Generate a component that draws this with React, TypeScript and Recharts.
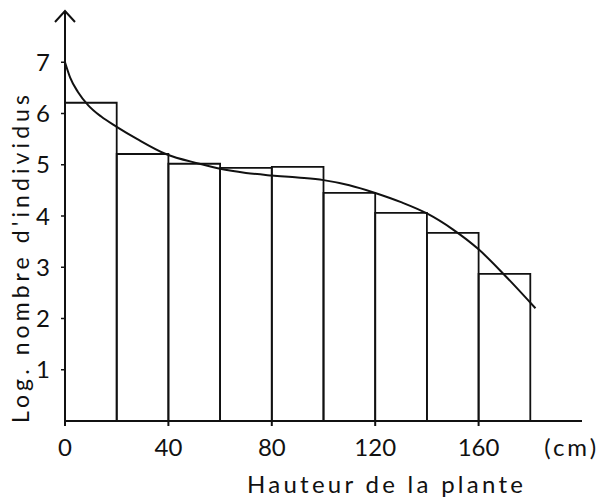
import { ComposedChart, Line, XAxis, YAxis, ReferenceArea, ReferenceDot } from "recharts"

// histogram bins (height class, cm) and log counts
const binStarts = [0, 20, 40, 60, 80, 100, 120, 140, 160]
const binWidth = 20
const binValues = [6.21, 5.21, 5.02, 4.94, 4.96, 4.45, 4.06, 3.67, 2.87]

// fitted curve
const curveX = [0, 2, 5, 9, 14, 20, 28, 39, 52, 60, 70, 80, 90, 100, 110, 120, 130, 140, 150, 160, 170, 182]
const curveY = [7.0, 6.7, 6.42, 6.16, 5.94, 5.74, 5.5, 5.21, 5.02, 4.92, 4.84, 4.79, 4.75, 4.7, 4.6, 4.45, 4.27, 4.05, 3.74, 3.35, 2.85, 2.2]

const xTicks = [0, 40, 80, 120, 160]
const yTicks = [1, 2, 3, 4, 5, 6, 7]
const unitTickPos = 196
const unitLabel = "(cm)"
const xTitle = "Hauteur  de  la  plante"
const yTitle = "Log.  nombre  d'individus"

const FONT = "Lato, 'DejaVu Sans', sans-serif"
const INK = "#111"

const curveData = curveX.map((x, i) => ({ x, y: curveY[i] }))

const XTick = (props: any) => {
  const { x, y, payload } = props
  if (payload.value === unitTickPos) {
    return (
      <text x={x} y={y + 35} textAnchor="middle" fontFamily={FONT} fontSize={24} fill={INK} letterSpacing={3}>
        {unitLabel}
      </text>
    )
  }
  return (
    <g>
      <line x1={x} y1={y} x2={x} y2={y + 5} stroke={INK} strokeWidth={2} />
      <text x={x} y={y + 35} textAnchor="middle" fontFamily={FONT} fontSize={24} fill={INK}>
        {payload.value}
      </text>
    </g>
  )
}

const Arrow = (props: any) => {
  const { cx, cy } = props
  return (
    <path
      d={`M${cx - 10},${cy + 11} L${cx},${cy} L${cx + 10},${cy + 11}`}
      fill="none"
      stroke={INK}
      strokeWidth={2}
    />
  )
}

export default function App() {
  return (
    <div style={{ position: "absolute", left: 0, top: 0, width: 604, height: 497, background: "#fff" }}>
      <ComposedChart width={604} height={497} data={curveData} margin={{ top: 11, right: 22, left: 0, bottom: 0 }}>
        <XAxis
          dataKey="x"
          type="number"
          domain={[0, 200]}
          ticks={[...xTicks, unitTickPos]}
          interval={0}
          tick={<XTick />}
          tickLine={false}
          tickSize={0}
          tickMargin={0}
          axisLine={{ stroke: INK, strokeWidth: 2 }}
          height={76}
          allowDataOverflow
          label={{
            content: () => (
              <text
                x={385}
                y={493}
                textAnchor="middle"
                fontFamily={FONT}
                fontSize={24}
                fill={INK}
                textLength={276}
                lengthAdjust="spacing"
              >
                {xTitle}
              </text>
            ),
          }}
        />
        <YAxis
          type="number"
          domain={[0, 8]}
          ticks={yTicks}
          interval={0}
          width={65}
          tickSize={4}
          tickMargin={11}
          tickLine={{ stroke: INK, strokeWidth: 1.5 }}
          axisLine={{ stroke: INK, strokeWidth: 2 }}
          tick={{ fontFamily: FONT, fontSize: 24, fill: INK }}
          allowDataOverflow
          label={{
            content: () => (
              <text
                transform="translate(20,259) rotate(-90)"
                textAnchor="middle"
                dominantBaseline="central"
                fontFamily={FONT}
                fontSize={23}
                fill={INK}
                textLength={328}
                lengthAdjust="spacing"
              >
                {yTitle}
              </text>
            ),
          }}
        />
        {binStarts.map((start, i) => (
          <ReferenceArea
            key={start}
            x1={start}
            x2={start + binWidth}
            y1={0}
            y2={binValues[i]}
            fill="none"
            fillOpacity={0}
            stroke={INK}
            strokeWidth={1.8}
            strokeOpacity={1}
          />
        ))}
        <Line
          type="monotone"
          dataKey="y"
          stroke={INK}
          strokeWidth={2}
          dot={false}
          isAnimationActive={false}
        />
        <ReferenceDot x={0} y={8} r={0} shape={<Arrow />} />
      </ComposedChart>
    </div>
  )
}
